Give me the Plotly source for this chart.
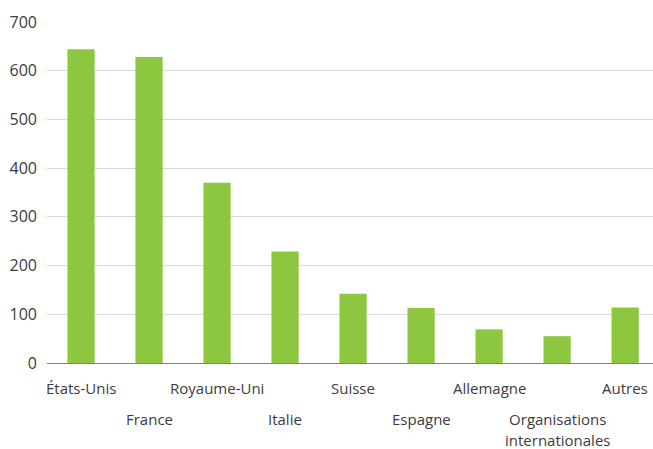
import plotly.graph_objects as go

categories = ["États-Unis", "France", "Royaume-Uni", "Italie", "Suisse",
              "Espagne", "Allemagne", "Organisations<br>internationales", "Autres"]
values = [644, 628, 370, 229, 142, 113, 69, 55, 114]
y_ticks = [0, 100, 200, 300, 400, 500, 600, 700]

FONT = "Open Sans"
TXT = "#3c3c3c"
LABEL_SIZE = 15

fig = go.Figure()
fig.add_trace(go.Bar(x=list(range(len(categories))), y=values,
                     marker=dict(color="#8dc63f", line=dict(width=0)),
                     width=0.4, hoverinfo="skip"))

annotations = []
for i, c in enumerate(categories):
    lower = (i % 2 == 1)
    lines = c.split("<br>")
    if len(lines) > 1:
        # larger base font for wider line spacing, text itself at label size
        text = "<br>".join(f"<span style='font-size:{LABEL_SIZE}px'>{ln}</span>" for ln in lines)
        size = 16
        shift = -56 - (len(lines) - 1) * 10.5
    else:
        text = c
        size = LABEL_SIZE
        shift = -56 if lower else -25
    annotations.append(dict(x=i, xref="x", y=0, yref="paper", text=text,
                            showarrow=False, yanchor="middle", xanchor="center",
                            yshift=shift, borderpad=0,
                            font=dict(family=FONT, size=size, color=TXT)))

fig.update_layout(
    width=653, height=449,
    margin=dict(l=47, r=0, t=22, b=86, autoexpand=False),
    paper_bgcolor="white", plot_bgcolor="white",
    showlegend=False,
    annotations=annotations,
    xaxis=dict(range=[-0.5, 8.41], showticklabels=False, showgrid=False,
               showline=True, linecolor="#808080", linewidth=1.2,
               zeroline=False, ticks="", automargin=False),
    yaxis=dict(range=[0, 700], tickvals=y_ticks, showgrid=True,
               gridcolor="#d9d9d9", gridwidth=1, zeroline=False,
               showline=False, ticks="", ticklabelstandoff=9, automargin=False,
               tickfont=dict(family=FONT, size=16, color=TXT)),
)

fig.write_html("out.html", config={"displayModeBar": False},
               post_script="document.body.style.margin='0';document.body.style.overflow='hidden';")
